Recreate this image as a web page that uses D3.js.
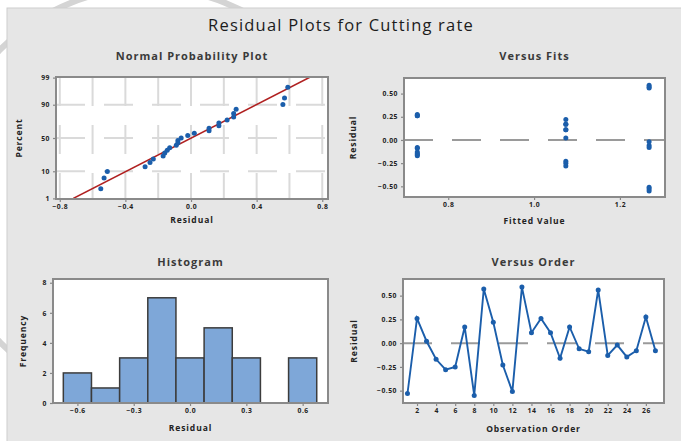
<!DOCTYPE html>
<html><head><meta charset="utf-8">
<script src="https://cdn.jsdelivr.net/npm/d3@7"></script>
<style>
body{margin:0;background:#fff}
text{font-family:"Open Sans","DejaVu Sans",sans-serif}
</style>
</head><body>
<svg id="chart" width="681" height="441"></svg>
<script>
// Residuals of the cutting-rate model, in observation order
const observations = d3.range(1, 28);
const residuals = [-0.53, 0.26, 0.02, -0.17, -0.28, -0.25, 0.17, -0.55, 0.57, 0.22,
  -0.23, -0.51, 0.59, 0.11, 0.26, 0.11, -0.16, 0.17, -0.06, -0.09,
  0.56, -0.13, -0.02, -0.145, -0.08, 0.275, -0.08];
const fittedValues = [1.268, 0.728, 1.074, 0.728, 1.074, 1.074, 1.074, 1.268, 1.268, 1.074,
  1.074, 1.268, 1.268, 1.074, 0.728, 1.074, 0.728, 1.074, 1.268, 0.728,
  1.268, 0.728, 1.268, 0.728, 0.728, 0.728, 1.268];

// Histogram bins (midpoints, common width)
const binMidpoints = [-0.6, -0.45, -0.3, -0.15, 0, 0.15, 0.3, 0.45, 0.6];
const binWidth = 0.15;

// Tick labels
const nppXTicks = [-0.8, -0.4, 0, 0.4, 0.8];
const nppGridX = [-0.8, -0.6, -0.4, -0.2, 0, 0.2, 0.4, 0.6, 0.8];
const nppPercentTicks = [1, 10, 50, 90, 99];
const nppGridPercent = [10, 50, 90];
const residualTicks = [-0.5, -0.25, 0, 0.25, 0.5];
const fitTicks = [0.8, 1.0, 1.2];
const histXTicks = [-0.6, -0.3, 0, 0.3, 0.6];
const freqTicks = [0, 2, 4, 6, 8];
const orderTicks = d3.range(2, 27, 2);

const BLUE = "#1b5eab";
const svg = d3.select("#chart");

// inverse standard normal CDF (Acklam)
function qnorm(p) {
  const a = [-3.969683028665376e+01, 2.209460984245205e+02, -2.759285104469687e+02, 1.383577518672690e+02, -3.066479806614716e+01, 2.506628277459239e+00];
  const b = [-5.447609879822406e+01, 1.615858368580409e+02, -1.556989798598866e+02, 6.680131188771972e+01, -1.328068155288572e+01];
  const c = [-7.784894002430293e-03, -3.223964580411365e-01, -2.400758277161838e+00, -2.549732539343734e+00, 4.374664141464968e+00, 2.938163982698783e+00];
  const d = [7.784695709041462e-03, 3.224671290700398e-01, 2.445134137142996e+00, 3.754408661907416e+00];
  const pl = 0.02425;
  let q, r;
  if (p < pl) {
    q = Math.sqrt(-2 * Math.log(p));
    return (((((c[0]*q+c[1])*q+c[2])*q+c[3])*q+c[4])*q+c[5]) / ((((d[0]*q+d[1])*q+d[2])*q+d[3])*q+1);
  } else if (p <= 1 - pl) {
    q = p - 0.5; r = q * q;
    return (((((a[0]*r+a[1])*r+a[2])*r+a[3])*r+a[4])*r+a[5])*q / (((((b[0]*r+b[1])*r+b[2])*r+b[3])*r+b[4])*r+1);
  } else {
    q = Math.sqrt(-2 * Math.log(1 - p));
    return -(((((c[0]*q+c[1])*q+c[2])*q+c[3])*q+c[4])*q+c[5]) / ((((d[0]*q+d[1])*q+d[2])*q+d[3])*q+1);
  }
}

// background watermark arc and the grey sheet
svg.append("circle").attr("cx", 148).attr("cy", 196).attr("r", 208)
  .attr("fill", "none").attr("stroke", "#d4d4d4").attr("stroke-width", 6);
svg.append("rect").attr("x", 7).attr("y", 8).attr("width", 680).attr("height", 440)
  .attr("fill", "#e6e6e6").attr("stroke", "#cdcdcd").attr("stroke-width", 1);

svg.append("text").attr("x", 341).attr("y", 31).attr("text-anchor", "middle")
  .attr("font-size", 16.5).attr("letter-spacing", 1.2).attr("fill", "#1c1c1c")
  .text("Residual Plots for Cutting rate");

let clipId = 0;
function makePanel(box, title, titleY) {
  const g = svg.append("g");
  g.append("rect").attr("x", box.x0).attr("y", box.y0)
    .attr("width", box.x1 - box.x0).attr("height", box.y1 - box.y0).attr("fill", "#fff");
  const id = "clip" + (clipId++);
  svg.append("clipPath").attr("id", id).append("rect")
    .attr("x", box.x0).attr("y", box.y0).attr("width", box.x1 - box.x0).attr("height", box.y1 - box.y0);
  const inner = g.append("g").attr("clip-path", `url(#${id})`);
  g.append("text").attr("x", (box.x0 + box.x1) / 2).attr("y", titleY)
    .attr("text-anchor", "middle").attr("font-size", 11).attr("font-weight", 700)
    .attr("letter-spacing", 1).attr("fill", "#3a3a3a").text(title);
  return { g, inner };
}
function finishPanel(g, box) {
  g.append("rect").attr("x", box.x0).attr("y", box.y0)
    .attr("width", box.x1 - box.x0).attr("height", box.y1 - box.y0)
    .attr("fill", "none").attr("stroke", "#8a8a8a").attr("stroke-width", 2);
}
function styleAxis(sel) {
  sel.select(".domain").remove();
  sel.selectAll(".tick line").attr("stroke", "#888").attr("stroke-width", 1.2);
  sel.selectAll(".tick text").attr("font-size", 6.8).attr("font-weight", 700)
    .attr("letter-spacing", 0.5).attr("fill", "#222")
    .attr("font-family", '"Open Sans","DejaVu Sans",sans-serif');
}
function axes(g, box, x, y, xt, xf, yt, yf) {
  g.append("g").attr("transform", `translate(0,${box.y1})`)
    .call(d3.axisBottom(x).tickValues(xt).tickFormat(xf).tickSize(3).tickPadding(2.5))
    .call(styleAxis);
  g.append("g").attr("transform", `translate(${box.x0},0)`)
    .call(d3.axisLeft(y).tickValues(yt).tickFormat(yf).tickSize(3).tickPadding(3))
    .call(styleAxis);
}
function axisTitles(g, box, xTitle, xY, yTitle, yX) {
  g.append("text").attr("x", (box.x0 + box.x1) / 2).attr("y", xY)
    .attr("text-anchor", "middle").attr("font-size", 8.5).attr("font-weight", 700)
    .attr("letter-spacing", 0.9).attr("fill", "#222").text(xTitle);
  g.append("text").attr("transform", `translate(${yX},${(box.y0 + box.y1) / 2}) rotate(-90)`)
    .attr("text-anchor", "middle").attr("font-size", 8.5).attr("font-weight", 700)
    .attr("letter-spacing", 0.9).attr("fill", "#222").text(yTitle);
}
const dashed = "29,19";

// ---------- Normal Probability Plot ----------
{
  const box = { x0: 56, x1: 328, y0: 77, y1: 199 };
  const { g, inner } = makePanel(box, "Normal Probability Plot", 60);
  const x = d3.scaleLinear().domain([-0.823, 0.835]).range([box.x0, box.x1]);
  const zScale = d3.scaleLinear().domain([-2.35, 2.35]).range([box.y1, box.y0]);
  const y = p => zScale(qnorm(p / 100));
  nppGridX.forEach(v => inner.append("line").attr("x1", x(v)).attr("x2", x(v))
    .attr("y1", box.y0).attr("y2", box.y1).attr("stroke", "#dadada").attr("stroke-width", 2)
    .attr("stroke-dasharray", dashed));
  nppGridPercent.forEach(p => inner.append("line").attr("x1", box.x0).attr("x2", box.x1)
    .attr("y1", y(p)).attr("y2", y(p)).attr("stroke", "#dadada").attr("stroke-width", 2)
    .attr("stroke-dasharray", dashed));
  const n = residuals.length;
  const mu = d3.mean(residuals), sd = d3.deviation(residuals);
  inner.append("line")
    .attr("x1", x(mu + sd * qnorm(0.01))).attr("y1", y(1))
    .attr("x2", x(mu + sd * qnorm(0.999))).attr("y2", y(99.9))
    .attr("stroke", "#b02020").attr("stroke-width", 1.6);
  const sorted = residuals.slice().sort(d3.ascending);
  inner.selectAll("circle.pt").data(sorted).join("circle").attr("class", "pt")
    .attr("cx", d => x(d)).attr("cy", (d, i) => y((i + 1 - 0.3) / (n + 0.4) * 100))
    .attr("r", 2.5).attr("fill", BLUE);
  axes(g, box, x, zScale, nppXTicks, d3.format(".1f"), nppPercentTicks.map(p => qnorm(p / 100)),
    (d, i) => nppPercentTicks[i]);
  axisTitles(g, box, "Residual", 223, "Percent", 22);
  finishPanel(g, box);
}

// ---------- Versus Fits ----------
{
  const box = { x0: 404, x1: 665, y0: 78, y1: 197 };
  const { g, inner } = makePanel(box, "Versus Fits", 60);
  const x = d3.scaleLinear().domain([0.697, 1.305]).range([box.x0, box.x1]);
  const y = d3.scaleLinear().domain([-0.615, 0.668]).range([box.y1, box.y0]);
  inner.append("line").attr("x1", box.x0).attr("x2", box.x1).attr("y1", y(0)).attr("y2", y(0))
    .attr("stroke", "#9a9a9a").attr("stroke-width", 2).attr("stroke-dasharray", dashed);
  inner.selectAll("circle.pt").data(residuals).join("circle").attr("class", "pt")
    .attr("cx", (d, i) => x(fittedValues[i])).attr("cy", d => y(d))
    .attr("r", 2.5).attr("fill", BLUE);
  axes(g, box, x, y, fitTicks, d3.format(".1f"), residualTicks, d3.format(".2f"));
  axisTitles(g, box, "Fitted Value", 224, "Residual", 356);
  finishPanel(g, box);
}

// ---------- Histogram ----------
{
  const box = { x0: 53, x1: 328, y0: 279, y1: 403 };
  const { g, inner } = makePanel(box, "Histogram", 266);
  const x = d3.scaleLinear().domain([-0.73, 0.735]).range([box.x0, box.x1]);
  const y = d3.scaleLinear().domain([0, 8.25]).range([box.y1, box.y0]);
  const lo = binMidpoints[0] - binWidth / 2;
  const counts = binMidpoints.map(() => 0);
  residuals.forEach(r => { counts[Math.min(binMidpoints.length - 1, Math.floor((r - lo) / binWidth + 1e-9))] += 1; });
  const bins = binMidpoints.map((m, i) => ({ mid: m, count: counts[i] })).filter(b => b.count > 0);
  inner.selectAll("rect.bar").data(bins).join("rect").attr("class", "bar")
    .attr("x", b => x(b.mid - binWidth / 2))
    .attr("width", b => x(b.mid + binWidth / 2) - x(b.mid - binWidth / 2))
    .attr("y", b => y(b.count)).attr("height", b => y(0) - y(b.count))
    .attr("fill", "#7ea7d8").attr("stroke", "#3c3c3c").attr("stroke-width", 1.5);
  axes(g, box, x, y, histXTicks, d3.format(".1f"), freqTicks, d3.format("d"));
  axisTitles(g, box, "Residual", 431, "Frequency", 26);
  finishPanel(g, box);
}

// ---------- Versus Order ----------
{
  const box = { x0: 403, x1: 664, y0: 279, y1: 403 };
  const { g, inner } = makePanel(box, "Versus Order", 266);
  const x = d3.scaleLinear().domain([0.53, 27.9]).range([box.x0, box.x1]);
  const y = d3.scaleLinear().domain([-0.63, 0.675]).range([box.y1, box.y0]);
  inner.append("line").attr("x1", box.x0).attr("x2", box.x1).attr("y1", y(0)).attr("y2", y(0))
    .attr("stroke", "#9a9a9a").attr("stroke-width", 2).attr("stroke-dasharray", dashed);
  inner.append("path").datum(residuals)
    .attr("d", d3.line().x((d, i) => x(observations[i])).y(d => y(d)))
    .attr("fill", "none").attr("stroke", BLUE).attr("stroke-width", 1.9);
  inner.selectAll("circle.pt").data(residuals).join("circle").attr("class", "pt")
    .attr("cx", (d, i) => x(observations[i])).attr("cy", d => y(d))
    .attr("r", 2.5).attr("fill", BLUE);
  axes(g, box, x, y, orderTicks, d3.format("d"), residualTicks, d3.format(".2f"));
  axisTitles(g, box, "Observation Order", 432, "Residual", 357);
  finishPanel(g, box);
}
</script>
</body></html>
